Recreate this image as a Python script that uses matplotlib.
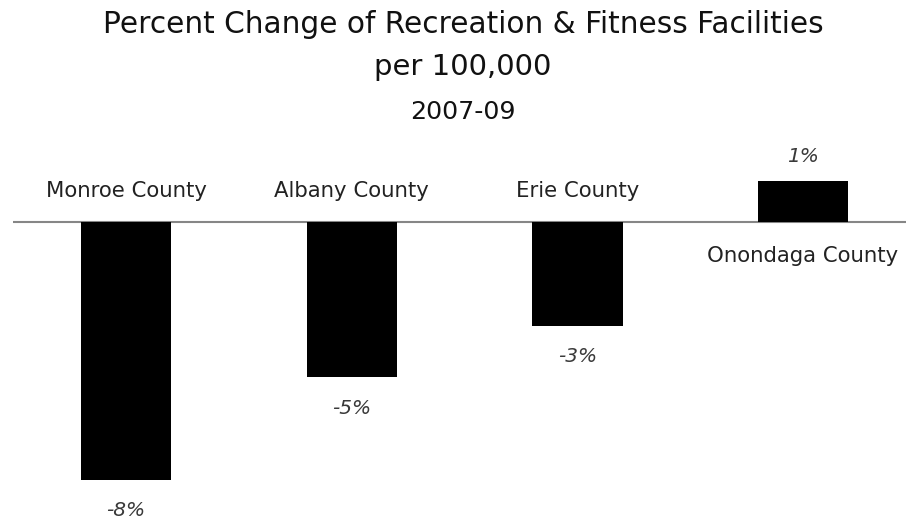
import matplotlib
matplotlib.use("Agg")
import matplotlib.pyplot as plt

categories = ["Monroe County", "Albany County", "Erie County", "Onondaga County"]
values = [-8.0, -4.82, -3.22, 1.26]
value_labels = ["-8%", "-5%", "-3%", "1%"]
title_lines = ["Percent Change of Recreation & Fitness Facilities", "per 100,000", "2007-09"]

plt.rcParams['font.family'] = ['DejaVu Sans']

W, H = 906, 522
fig = plt.figure(figsize=(W / 100, H / 100), dpi=100)

# axes spanning pixel x 12.5..906, y 160..510
ax = fig.add_axes([12.5 / W, (H - 510) / H, (W - 12.5) / W, (510 - 160) / H])
x = list(range(len(categories)))
ax.bar(x, values, width=0.4, color="black", zorder=2)
ax.axhline(0, color="#868686", linewidth=1.5, zorder=1)

ax.set_xlim(-0.503, 3.456)
ax.set_ylim(-8.93, 1.92)
ax.axis("off")

for xi, v, lab, cat in zip(x, values, value_labels, categories):
    if v < 0:
        ax.annotate(lab, (xi, v), xytext=(0, -26), textcoords="offset points",
                    ha="center", va="baseline", fontsize=14.5, style="italic", color="#3a3a3a")
        ax.annotate(cat, (xi, 0), xytext=(0, 18), textcoords="offset points",
                    ha="center", va="baseline", fontsize=15.3, color="#222222")
    else:
        ax.annotate(lab, (xi, v), xytext=(0, 13.7), textcoords="offset points",
                    ha="center", va="baseline", fontsize=14.5, style="italic", color="#3a3a3a")
        ax.annotate(cat, (xi, 0), xytext=(0, -28.8), textcoords="offset points",
                    ha="center", va="baseline", fontsize=15.3, color="#222222")

fig.text(463 / W, 1 - 33 / H, title_lines[0], ha="center", va="baseline", fontsize=21.3, color="#111111")
fig.text(463 / W, 1 - 75 / H, title_lines[1], ha="center", va="baseline", fontsize=21, color="#111111")
fig.text(463 / W, 1 - 119 / H, title_lines[2], ha="center", va="baseline", fontsize=18.3, color="#111111")

fig.savefig("out.png", dpi=100, facecolor="white")
